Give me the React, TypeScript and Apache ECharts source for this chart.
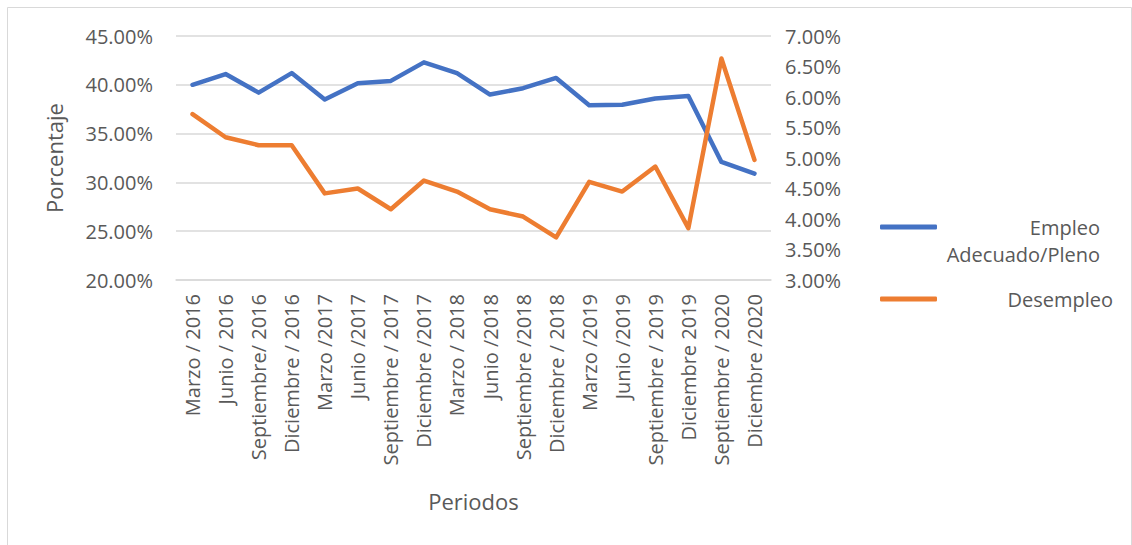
import React, { useEffect, useRef } from "react";
import * as echarts from "echarts";

const categories = [
  "Marzo / 2016",
  "Junio / 2016",
  "Septiembre/ 2016",
  "Diciembre / 2016",
  "Marzo /2017",
  "Junio /2017",
  "Septiembre / 2017",
  "Diciembre /2017",
  "Marzo / 2018",
  "Junio /2018",
  "Septiembre /2018",
  "Diciembre / 2018",
  "Marzo /2019",
  "Junio /2019",
  "Septiembre / 2019",
  "Diciembre 2019",
  "Septiembre / 2020",
  "Diciembre /2020",
];

const empleoAdecuado = [
  40.0, 41.1, 39.2, 41.2, 38.5, 40.15, 40.4, 42.3, 41.2, 39.0, 39.65, 40.7,
  37.9, 37.95, 38.6, 38.85, 32.1, 30.9,
];

const desempleo = [
  5.72, 5.34, 5.21, 5.21, 4.42, 4.5, 4.16, 4.63, 4.45, 4.16, 4.04, 3.7, 4.61,
  4.45, 4.86, 3.85, 6.63, 4.97,
];

const leftTicks = { min: 20, max: 45, interval: 5 };
const rightTicks = { min: 3, max: 7, interval: 0.5 };

const seriesNames = ["Empleo Adecuado/Pleno", "Desempleo"];

const FONT = "'Open Sans', sans-serif";
const TEXT = "#595959";
const GRID = "#d9d9d9";

export default function App() {
  const ref = useRef<HTMLDivElement>(null);

  useEffect(() => {
    if (!ref.current) return;
    const chart = echarts.init(ref.current, undefined, { renderer: "svg" });
    chart.setOption({
      animation: false,
      backgroundColor: "#ffffff",
      textStyle: { fontFamily: FONT, color: TEXT },
      graphic: [
        {
          type: "rect",
          shape: { x: 7.5, y: 7.5, width: 1124, height: 560 },
          style: { fill: "none", stroke: GRID, lineWidth: 1 },
          silent: true,
        },
      ],
      grid: { left: 176, right: 361, top: 36, bottom: 265, containLabel: false },
      legend: {
        orient: "vertical",
        left: 875,
        top: 185,
        itemGap: 25,
        itemWidth: 57,
        itemHeight: 5,
        icon: "roundRect",
        data: seriesNames,
        formatter: (name: string) =>
          name === seriesNames[0]
            ? "{a| }\n{a|Empleo}\n{a|Adecuado/Pleno}"
            : "{b|Desempleo}",
        textStyle: {
          fontFamily: FONT,
          color: TEXT,
          fontSize: 20,
          rich: {
            a: { width: 158, align: "right", lineHeight: 27, fontSize: 20, fontFamily: FONT, color: TEXT },
            b: { width: 171, align: "right", lineHeight: 27, fontSize: 20, fontFamily: FONT, color: TEXT },
          },
        },
      },
      xAxis: {
        type: "category",
        data: categories,
        boundaryGap: true,
        name: "Periodos",
        nameLocation: "middle",
        nameGap: 210,
        nameTextStyle: { fontFamily: FONT, fontSize: 22, color: TEXT },
        axisLine: { show: true, lineStyle: { color: GRID, width: 1.5 } },
        axisTick: { show: false },
        axisLabel: {
          interval: 0,
          rotate: 90,
          margin: 14,
          fontFamily: FONT,
          fontSize: 20,
          color: TEXT,
        },
      },
      yAxis: [
        {
          type: "value",
          min: leftTicks.min,
          max: leftTicks.max,
          interval: leftTicks.interval,
          name: "Porcentaje",
          nameLocation: "middle",
          nameGap: 111,
          nameTextStyle: { fontFamily: FONT, fontSize: 22, color: TEXT },
          axisLine: { show: false },
          axisTick: { show: false },
          splitLine: { show: true, lineStyle: { color: GRID, width: 1.5 } },
          axisLabel: {
            margin: 23,
            fontFamily: FONT,
            fontSize: 20,
            color: TEXT,
            formatter: (v: number) => v.toFixed(2) + "%",
          },
        },
        {
          type: "value",
          min: rightTicks.min,
          max: rightTicks.max,
          interval: rightTicks.interval,
          position: "right",
          axisLine: { show: false },
          axisTick: { show: false },
          splitLine: { show: false },
          axisLabel: {
            margin: 14,
            fontFamily: FONT,
            fontSize: 20,
            color: TEXT,
            formatter: (v: number) => v.toFixed(2) + "%",
          },
        },
      ],
      series: [
        {
          name: seriesNames[0],
          type: "line",
          yAxisIndex: 0,
          data: empleoAdecuado,
          symbol: "none",
          color: "#4472C4",
          lineStyle: { width: 4.5, color: "#4472C4", cap: "round", join: "round" },
        },
        {
          name: seriesNames[1],
          type: "line",
          yAxisIndex: 1,
          data: desempleo,
          symbol: "none",
          color: "#ED7D31",
          lineStyle: { width: 4.5, color: "#ED7D31", cap: "round", join: "round" },
        },
      ],
    });
    return () => chart.dispose();
  }, []);

  return (
    <div
      ref={ref}
      style={{ position: "absolute", left: 0, top: 0, width: 1132, height: 545 }}
    />
  );
}
